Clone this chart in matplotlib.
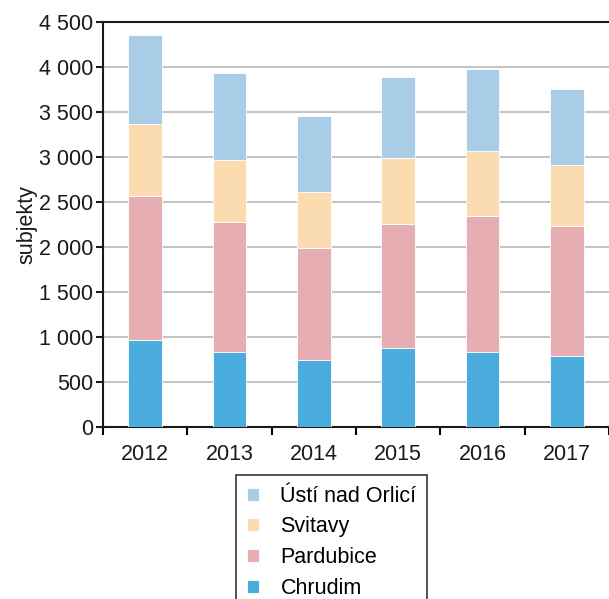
import matplotlib.pyplot as plt
import numpy as np

plt.rcParams['font.family'] = ['Liberation Sans', 'DejaVu Sans']

years = ['2012', '2013', '2014', '2015', '2016', '2017']
chrudim = [963, 829, 740, 874, 829, 785]
pardubice = [1603, 1451, 1250, 1383, 1514, 1446]
svitavy = [807, 691, 628, 737, 721, 677]
usti = [986, 964, 844, 896, 911, 844]

series = [('Chrudim', chrudim, '#4badde'),
          ('Pardubice', pardubice, '#e6aeb2'),
          ('Svitavy', svitavy, '#fbdcb0'),
          ('Ústí nad Orlicí', usti, '#a9cde7')]

fs = 15.5

fig = plt.figure(figsize=(6.09, 5.99), dpi=100)
ax = fig.add_axes([0.169, 0.287, 0.831, 0.676])

x = np.arange(len(years))
bottom = np.zeros(len(years))
handles = []
for name, vals, col in series:
    h = ax.bar(x, vals, width=0.4, bottom=bottom, color=col, edgecolor='white',
               linewidth=0.6, label=name, zorder=3)
    handles.append(h)
    bottom += np.array(vals)

ax.set_xlim(-0.5, 5.5)
ax.set_ylim(0, 4500)
ax.set_yticks(np.arange(0, 4501, 500))
ax.set_yticklabels([f'{v:,}'.replace(',', ' ') for v in range(0, 4501, 500)])
ax.set_xticks(x)
ax.set_xticklabels(years)
ax.set_xticks(np.arange(-0.5, 5.6, 1), minor=True)
ax.tick_params(axis='x', which='major', length=0, pad=12)
ax.tick_params(axis='x', which='minor', length=6, width=1.5, direction='out')
ax.tick_params(axis='y', length=5, width=1.5, direction='out', pad=2)
ax.tick_params(labelsize=fs, colors='#1a1a1a')
ax.grid(axis='y', color='#c4c4c4', linewidth=1.5, zorder=0)

for s in ['left', 'bottom', 'top']:
    ax.spines[s].set_linewidth(1.5)
    ax.spines[s].set_color('#1a1a1a')
ax.spines['right'].set_visible(False)

ax.set_ylabel('subjekty', fontsize=fs, labelpad=1, color='#1a1a1a')

leg = fig.legend(handles[::-1], [s[0] for s in series][::-1],
                 loc='upper left', bbox_to_anchor=(0.388, 0.207),
                 fontsize=fs, frameon=True, fancybox=False,
                 handlelength=0.55, handleheight=0.55, handletextpad=1.0,
                 labelspacing=0.45, borderpad=0.5, borderaxespad=0)
leg.get_frame().set_edgecolor('black')
leg.get_frame().set_linewidth(1.2)

fig.savefig('out.png', dpi=100)
